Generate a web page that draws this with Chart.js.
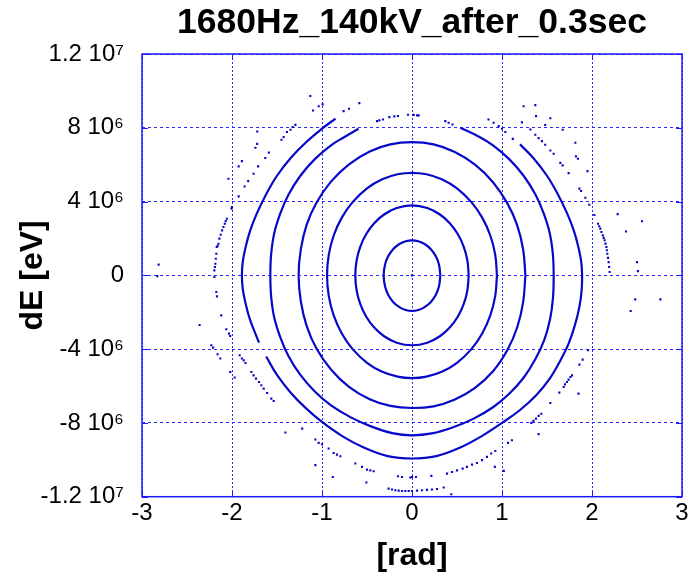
<!DOCTYPE html>
<html><head><meta charset="utf-8">
<script src="https://cdn.jsdelivr.net/npm/chart.js@4/dist/chart.umd.min.js"></script>
<style>html,body{margin:0;padding:0;background:#fff}canvas{display:block}</style>
</head><body>
<canvas id="c" width="691" height="580"></canvas>
<script>
// ---- axis ticks ----
const xTickValues = [-3, -2, -1, 0, 1, 2, 3];
const yTickValues = [-1.2e7, -8e6, -4e6, 0, 4e6, 8e6, 1.2e7];
const yTickLabels = ['-1.2 10\u2077', '-8 10\u2076', '-4 10\u2076', '0', '4 10\u2076', '8 10\u2076', '1.2 10\u2077'];

// ---- closed / dense orbits (phase [rad], dE [eV]) ----
const c1Phi = [0.315,0.30,0.265,0.21,0.14,0.07,0,-0.07,-0.14,-0.21,-0.265,-0.30,-0.315,-0.30,-0.265,-0.21,-0.14,-0.07,0,0.07,0.14,0.21,0.265,0.30,0.315];
const c1dE  = [0,0.58e6,1.03e6,1.42e6,1.7e6,1.85e6,1.9e6,1.85e6,1.7e6,1.42e6,1.03e6,0.58e6,0,-0.59e6,-1.05e6,-1.44e6,-1.72e6,-1.88e6,-1.93e6,-1.88e6,-1.72e6,-1.44e6,-1.05e6,-0.59e6,0];

const c2Phi = [0.63,0.615,0.575,0.51,0.42,0.31,0.17,0,-0.17,-0.31,-0.42,-0.51,-0.575,-0.615,-0.63,-0.615,-0.575,-0.51,-0.42,-0.31,-0.17,0,0.17,0.31,0.42,0.51,0.575,0.615,0.63];
const c2dE  = [0,0.82e6,1.55e6,2.23e6,2.83e6,3.3e6,3.65e6,3.79e6,3.65e6,3.3e6,2.83e6,2.23e6,1.55e6,0.82e6,0,-0.82e6,-1.55e6,-2.23e6,-2.83e6,-3.3e6,-3.65e6,-3.79e6,-3.65e6,-3.3e6,-2.83e6,-2.23e6,-1.55e6,-0.82e6,0];

const c3Phi = [0.944,0.925,0.87,0.78,0.66,0.5,0.33,0.16,0,-0.16,-0.33,-0.5,-0.66,-0.78,-0.87,-0.925,-0.944,-0.925,-0.87,-0.78,-0.66,-0.5,-0.33,-0.16,0,0.16,0.33,0.5,0.66,0.78,0.87,0.925,0.944];
const c3dE  = [0,1.11e6,2.16e6,3.13e6,3.97e6,4.72e6,5.21e6,5.48e6,5.56e6,5.48e6,5.21e6,4.72e6,3.97e6,3.13e6,2.16e6,1.11e6,0,-1.11e6,-2.17e6,-3.15e6,-4.0e6,-4.74e6,-5.23e6,-5.49e6,-5.57e6,-5.49e6,-5.23e6,-4.74e6,-4.0e6,-3.15e6,-2.17e6,-1.11e6,0];

const c4Phi = [1.26,1.235,1.17,1.06,0.9,0.7,0.47,0.24,0,-0.24,-0.47,-0.7,-0.9,-1.06,-1.17,-1.235,-1.26,-1.235,-1.17,-1.06,-0.9,-0.7,-0.47,-0.24,0,0.24,0.47,0.7,0.9,1.06,1.17,1.235,1.26];
const c4dE  = [0,1.4e6,2.7e6,3.9e6,5.05e6,6.0e6,6.7e6,7.1e6,7.22e6,7.1e6,6.72e6,6.02e6,5.08e6,3.95e6,2.75e6,1.42e6,0,-1.42e6,-2.75e6,-3.98e6,-5.1e6,-6.05e6,-6.72e6,-7.08e6,-7.19e6,-7.1e6,-6.75e6,-6.1e6,-5.2e6,-4.05e6,-2.8e6,-1.45e6,0];

const c5Phi = [-0.593,-0.75,-0.9,-1.08,-1.24,-1.37,-1.46,-1.53,-1.565,-1.574,-1.565,-1.53,-1.46,-1.37,-1.24,-1.08,-0.9,-0.68,-0.45,-0.22,0,0.22,0.45,0.68,0.9,1.08,1.24,1.37,1.47,1.535,1.567,1.574,1.565,1.53,1.46,1.37,1.24,1.08,0.9,0.75,0.537];
const c5dE  = [7.95e6,7.5e6,7.05e6,6.3e6,5.4e6,4.4e6,3.4e6,2.3e6,1.15e6,0,-1.15e6,-2.3e6,-3.4e6,-4.4e6,-5.4e6,-6.3e6,-7.05e6,-7.7e6,-8.2e6,-8.55e6,-8.67e6,-8.57e6,-8.25e6,-7.78e6,-7.15e6,-6.42e6,-5.55e6,-4.55e6,-3.5e6,-2.35e6,-1.18e6,0,1.15e6,2.3e6,3.4e6,4.4e6,5.4e6,6.3e6,7.05e6,7.5e6,8.0e6];

const c6aPhi = [-0.85,-1.0,-1.18,-1.35,-1.5,-1.62,-1.72,-1.8,-1.85,-1.88,-1.89,-1.88,-1.85,-1.8,-1.72,-1.70];
const c6adE  = [8.5e6,7.95e6,7.2e6,6.35e6,5.4e6,4.4e6,3.4e6,2.4e6,1.5e6,0.75e6,0,-0.75e6,-1.5e6,-2.4e6,-3.4e6,-3.65e6];

const c6bPhi = [-1.62,-1.5,-1.35,-1.18,-1.0,-0.78,-0.53,-0.27,0,0.27,0.53,0.78,1.0,1.2,1.38,1.53,1.65,1.74,1.81,1.86,1.885,1.89,1.88,1.85,1.8,1.72,1.62,1.5,1.35,1.2];
const c6bdE  = [-4.4e6,-5.4e6,-6.35e6,-7.2e6,-7.95e6,-8.7e6,-9.35e6,-9.8e6,-9.93e6,-9.8e6,-9.35e6,-8.7e6,-8.0e6,-7.3e6,-6.5e6,-5.6e6,-4.6e6,-3.7e6,-2.7e6,-1.7e6,-0.8e6,0,0.75e6,1.5e6,2.4e6,3.4e6,4.4e6,5.4e6,6.35e6,7.1e6];

// ---- sparse particles near the top of orbits 5 and 6 ----
const topPhi = [-0.389,-0.363,-0.322,-0.252,-0.196,-0.156,-0.044,0.019,0.056,0.074,0.37,0.407,0.45,
                -0.76,-0.70,-0.585,0.85,0.907,0.963,1.0,1.037,1.12,0];
const topdE  = [8.36e6,8.4e6,8.45e6,8.58e6,8.62e6,8.64e6,8.71e6,8.7e6,8.67e6,8.67e6,8.36e6,8.27e6,8.18e6,
                8.9e6,9.03e6,9.34e6,8.45e6,8.27e6,8.09e6,7.95e6,7.77e6,7.4e6,0];

// ---- outer (unstable / separatrix) particles ----
const outerPhi = [
  -1.13,-1.10,-1.037,-0.993,-1.296,-1.326,-1.35,-1.39,-1.426,-1.45,-1.72,-1.72,-1.74,-1.59,-1.63,-1.89,-1.926,-1.71,-1.76,-1.82,-1.86,-2.04,-1.926,-2.0,-2.005,
  -2.056,-2.07,-2.08,-2.095,-2.11,-2.125,-2.14,-2.15,-2.16,-2.17,-2.174,-2.18,-2.185,-2.19,-2.196,-2.196,
  -2.815,-2.83,
  -2.174,-2.167,-2.12,-2.36,-2.063,-2.033,-2.02,-2.23,-2.21,-2.16,-2.13,-1.915,-1.89,-1.87,-1.85,-2.02,-1.97,
  -1.785,-1.76,-1.733,-1.70,-1.674,-1.648,-1.61,-1.563,-1.537,-1.407,-1.22,-1.074,-1.037,-1.0,-0.926,-0.87,-0.833,-0.796,
  -1.074,-0.88,-0.63,-0.556,-0.5,-0.463,-0.426,-0.507,-0.156,-0.111,-0.019,
  -0.26,-0.222,-0.185,-0.148,-0.111,-0.074,-0.037,
  1.956,1.896,1.86,1.778,1.76,1.74,1.722,1.70,1.685,1.637,1.85,1.537,1.437,1.407,1.378,1.35,1.326,1.407,1.11,1.067,
  0.926,0.88,0.833,0.778,0.722,0.667,0.61,0.563,0.5,0.444,0.389,0.92,1.02,0.215,0.044,0.0,
  0.0,0.056,0.111,0.167,0.222,0.278,0.352,0.437,
  2.285,2.556,2.378,2.5,2.51,2.48,2.76,2.43,
  2.067,2.08,2.093,2.105,2.12,2.13,2.14,2.15,2.16,2.165,2.17,2.178,2.185,2.19,2.196,
  1.24,1.37,1.378,1.537,1.222,1.315,1.48,1.674,1.37,1.407,1.444,1.48,1.537,1.574,1.648,1.674,1.74,1.815,1.822,1.844,1.95,1.86,1.878,1.926,1.97,2.026
];
const outerdE = [
  9.72e6,8.94e6,9.17e6,9.27e6,8.16e6,8.04e6,7.89e6,7.77e6,7.5e6,7.35e6,7.8e6,7.13e6,6.92e6,6.65e6,6.36e6,6.19e6,5.91e6,5.91e6,5.51e6,5.11e6,4.82e6,5.24e6,4.28e6,3.7e6,3.62e6,
  3.07e6,2.94e6,2.8e6,2.62e6,2.44e6,2.2e6,1.99e6,1.71e6,1.6e6,1.54e6,1.17e6,0.9e6,0.63e6,0.45e6,0.27e6,-0.09e6,
  0.58e6,-0.04e6,
  -0.9e6,-1.14e6,-2.17e6,-2.69e6,-2.92e6,-3.16e6,-3.29e6,-3.79e6,-3.92e6,-4.28e6,-4.51e6,-4.33e6,-4.51e6,-4.61e6,-4.75e6,-5.24e6,-5.54e6,
  -5.24e6,-5.42e6,-5.6e6,-5.78e6,-5.96e6,-6.14e6,-6.38e6,-6.68e6,-6.81e6,-8.52e6,-8.31e6,-8.9e6,-9.08e6,-9.16e6,-9.39e6,-9.63e6,-9.72e6,-9.81e6,
  -10.29e6,-10.93e6,-10.2e6,-10.38e6,-10.53e6,-10.57e6,-10.62e6,-11.23e6,-10.89e6,-10.93e6,-10.96e6,
  -11.56e6,-11.61e6,-11.65e6,-11.67e6,-11.69e6,-11.69e6,-11.69e6,
  -4.06e6,-4.57e6,-4.84e6,-5.42e6,-5.51e6,-5.65e6,-5.78e6,-5.91e6,-6.05e6,-6.36e6,-6.41e6,-6.92e6,-7.5e6,-7.62e6,-7.77e6,-7.89e6,-8.0e6,-8.61e6,-8.94e6,-9.08e6,
  -9.52e6,-9.66e6,-9.84e6,-10.02e6,-10.17e6,-10.26e6,-10.38e6,-10.48e6,-10.57e6,-10.66e6,-10.75e6,-10.38e6,-10.6e6,-10.87e6,-10.93e6,-10.93e6,
  -11.69e6,-11.67e6,-11.65e6,-11.63e6,-11.61e6,-11.58e6,-11.5e6,-11.87e6,
  3.32e6,2.93e6,2.38e6,0.72e6,0.23e6,-1.3e6,-1.3e6,-1.93e6,
  2.8e6,2.66e6,2.53e6,2.35e6,2.17e6,2.03e6,1.9e6,1.72e6,1.54e6,1.36e6,1.17e6,0.95e6,0.72e6,0.45e6,0.18e6,
  9.17e6,9.23e6,8.63e6,8.52e6,8.29e6,7.91e6,8.15e6,7.89e6,7.62e6,7.44e6,7.28e6,7.08e6,6.77e6,6.59e6,6.1e6,5.96e6,5.54e6,7.19e6,6.45e6,6.32e6,5.65e6,4.7e6,4.57e6,4.21e6,3.83e6,3.27e6
];

// ---- styling ----
const DOT = 'rgb(8,8,200)';
const GRID = '#2a2aff';
const FONT = "'Liberation Sans', Arial, Helvetica, sans-serif";

function pts(xs, ys) { return xs.map((x, i) => ({x: x, y: ys[i]})); }
function orbit(xs, ys) {
  return {data: pts(xs, ys), showLine: true, tension: 0.4, borderColor: DOT, borderWidth: 2.2,
          pointRadius: 0, pointHoverRadius: 0, fill: false};
}
function dots(xs, ys) {
  return {data: pts(xs, ys), showLine: false, pointStyle: 'rect', pointRadius: 1.5,
          pointBorderWidth: 0, pointBackgroundColor: DOT, pointBorderColor: DOT};
}

const framePlugin = {
  id: 'frame',
  afterDraw(chart) {
    const {ctx, chartArea: a, scales: {x, y}} = chart;
    ctx.save();
    ctx.strokeStyle = '#1a1aff';
    ctx.lineWidth = 1.5;
    ctx.strokeRect(a.left, a.top, a.right - a.left, a.bottom - a.top);
    ctx.lineWidth = 1;
    ctx.beginPath();
    x.ticks.forEach(t => {
      const p = Math.round(x.getPixelForValue(t.value)) + 0.5;
      ctx.moveTo(p, a.bottom); ctx.lineTo(p, a.bottom - 6);
      ctx.moveTo(p, a.top); ctx.lineTo(p, a.top + 6);
    });
    y.ticks.forEach(t => {
      const p = Math.round(y.getPixelForValue(t.value)) + 0.5;
      ctx.moveTo(a.left, p); ctx.lineTo(a.left + 6, p);
      ctx.moveTo(a.right, p); ctx.lineTo(a.right - 6, p);
    });
    ctx.stroke();
    ctx.restore();
  }
};

new Chart(document.getElementById('c'), {
  type: 'scatter',
  data: {
    datasets: [
      orbit(c1Phi, c1dE), orbit(c2Phi, c2dE), orbit(c3Phi, c3dE), orbit(c4Phi, c4dE),
      orbit(c5Phi, c5dE), orbit(c6aPhi, c6adE), orbit(c6bPhi, c6bdE),
      dots(topPhi, topdE), dots(outerPhi, outerdE)
    ]
  },
  options: {
    responsive: false,
    animation: false,
    devicePixelRatio: 1,
    layout: {padding: {left: 0, right: 9, top: 0, bottom: 0}},
    plugins: {
      legend: {display: false},
      tooltip: {enabled: false},
      title: {
        display: true, fullSize: false,
        text: '1680Hz_140kV_after_0.3sec',
        color: '#000',
        font: {family: FONT, size: 35.5, weight: 'bold', lineHeight: 1.2},
        padding: {top: 2, bottom: 9.4}
      }
    },
    scales: {
      x: {
        type: 'linear', min: -3, max: 3,
        afterBuildTicks: s => { s.ticks = xTickValues.map(v => ({value: v})); },
        afterFit: s => { s.height = 83.3; },
        ticks: {color: '#000', font: {family: FONT, size: 24}, padding: 2, maxRotation: 0,
                callback: v => String(v)},
        grid: {color: GRID, lineWidth: 1, drawTicks: false},
        border: {display: false, dash: [2, 2]},
        title: {display: true, text: '[rad]', color: '#000',
                font: {family: FONT, size: 32, weight: 'bold', lineHeight: 1.2},
                padding: {top: 0, bottom: 5}}
      },
      y: {
        type: 'linear', min: -1.2e7, max: 1.2e7,
        afterBuildTicks: s => { s.ticks = yTickValues.map(v => ({value: v})); },
        afterFit: s => { s.width = 142; },
        ticks: {color: '#000', font: {family: FONT, size: 24}, padding: 18,
                callback: (v) => { const i = yTickValues.indexOf(v); return i >= 0 ? yTickLabels[i] : ''; }},
        grid: {color: GRID, lineWidth: 1, drawTicks: false},
        border: {display: false, dash: [3, 3]},
        title: {display: true, text: 'dE [eV]', color: '#000',
                font: {family: FONT, size: 32, weight: 'bold', lineHeight: 1.2},
                padding: {top: 14, bottom: 0}}
      }
    }
  },
  plugins: [framePlugin]
});
</script>
</body></html>
